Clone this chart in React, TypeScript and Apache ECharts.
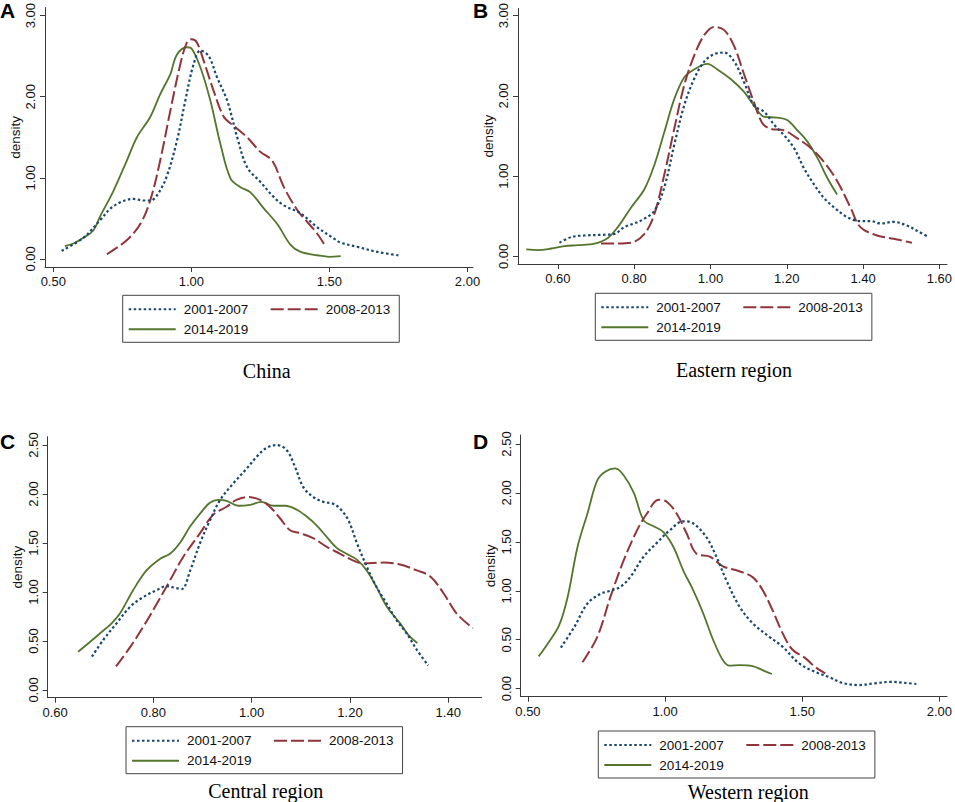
import React, { useEffect, useRef } from 'react';
import * as echarts from 'echarts';

// ---- Data ----
const SERIES_NAMES = ['2001-2007', '2008-2013', '2014-2019'];
const PANEL_TITLES = ['China', 'Eastern region', 'Central region', 'Western region'];
const PANEL_LETTERS = ['A', 'B', 'C', 'D'];

const X_TICKS_A = [0.5, 1.0, 1.5, 2.0];
const X_TICKS_B = [0.6, 0.8, 1.0, 1.2, 1.4, 1.6];
const X_TICKS_C = [0.6, 0.8, 1.0, 1.2, 1.4];
const X_TICKS_D = [0.5, 1.0, 1.5, 2.0];
const Y_TICKS_AB = [0, 1, 2, 3];
const Y_TICKS_CD = [0, 0.5, 1, 1.5, 2, 2.5];

// Panel A: China
const A1_X = [0.53, 0.609, 0.669, 0.718, 0.79, 0.827, 0.851, 0.875, 0.91, 0.948, 0.978, 1.008, 1.033, 1.063, 1.093, 1.13, 1.166, 1.202, 1.25, 1.299, 1.335, 1.396, 1.456, 1.517, 1.541, 1.6, 1.674, 1.759];
const A1_Y = [0.10, 0.26, 0.475, 0.65, 0.74, 0.72, 0.72, 0.78, 1.01, 1.46, 1.95, 2.40, 2.57, 2.50, 2.24, 1.95, 1.50, 1.13, 0.95, 0.76, 0.66, 0.56, 0.39, 0.25, 0.20, 0.15, 0.086, 0.04];
const A2_X = [0.694, 0.766, 0.815, 0.851, 0.887, 0.924, 0.96, 0.984, 1.002, 1.02, 1.045, 1.081, 1.118, 1.154, 1.202, 1.25, 1.293, 1.335, 1.384, 1.42, 1.456, 1.487];
const A2_Y = [0.057, 0.23, 0.43, 0.72, 1.21, 1.83, 2.40, 2.67, 2.71, 2.67, 2.44, 2.07, 1.75, 1.64, 1.50, 1.32, 1.21, 0.885, 0.60, 0.455, 0.31, 0.148];
const A3_X = [0.542, 0.573, 0.609, 0.645, 0.669, 0.718, 0.766, 0.803, 0.851, 0.887, 0.924, 0.948, 0.984, 1.002, 1.033, 1.069, 1.105, 1.142, 1.178, 1.214, 1.263, 1.311, 1.36, 1.396, 1.456, 1.499, 1.541];
const A3_Y = [0.156, 0.19, 0.26, 0.35, 0.52, 0.84, 1.21, 1.50, 1.75, 2.03, 2.28, 2.52, 2.61, 2.59, 2.36, 1.95, 1.42, 0.99, 0.885, 0.82, 0.62, 0.43, 0.17, 0.086, 0.045, 0.025, 0.033];

// Panel B: Eastern region
const B1_X = [0.604, 0.635, 0.67, 0.722, 0.748, 0.774, 0.8, 0.827, 0.853, 0.879, 0.905, 0.931, 0.957, 0.984, 1.01, 1.036, 1.062, 1.088, 1.114, 1.141, 1.167, 1.193, 1.219, 1.245, 1.271, 1.297, 1.324, 1.358, 1.393, 1.42, 1.446, 1.48, 1.515, 1.541, 1.572];
const B1_Y = [0.17, 0.24, 0.26, 0.27, 0.28, 0.365, 0.41, 0.47, 0.57, 0.86, 1.39, 1.88, 2.21, 2.43, 2.52, 2.54, 2.43, 2.17, 1.88, 1.80, 1.64, 1.51, 1.35, 1.10, 0.90, 0.73, 0.61, 0.49, 0.44, 0.44, 0.41, 0.43, 0.385, 0.32, 0.24];
const B2_X = [0.713, 0.757, 0.792, 0.827, 0.853, 0.879, 0.905, 0.931, 0.957, 0.984, 1.01, 1.036, 1.062, 1.088, 1.114, 1.136, 1.158, 1.193, 1.228, 1.263, 1.297, 1.332, 1.367, 1.393, 1.437, 1.48, 1.528];
const B2_Y = [0.16, 0.16, 0.17, 0.28, 0.53, 1.02, 1.59, 2.13, 2.50, 2.76, 2.86, 2.82, 2.62, 2.27, 1.92, 1.66, 1.59, 1.57, 1.47, 1.35, 1.18, 0.94, 0.61, 0.365, 0.26, 0.22, 0.17];
const B3_X = [0.517, 0.548, 0.583, 0.617, 0.652, 0.696, 0.731, 0.757, 0.792, 0.827, 0.853, 0.879, 0.905, 0.931, 0.957, 0.992, 1.018, 1.053, 1.088, 1.114, 1.141, 1.175, 1.201, 1.228, 1.254, 1.28, 1.306, 1.332];
const B3_Y = [0.086, 0.078, 0.098, 0.127, 0.14, 0.16, 0.23, 0.365, 0.61, 0.84, 1.14, 1.55, 1.96, 2.23, 2.33, 2.40, 2.33, 2.21, 2.05, 1.88, 1.74, 1.73, 1.70, 1.57, 1.43, 1.23, 0.98, 0.77];

// Panel C: Central region
const C1_X = [0.675, 0.698, 0.725, 0.753, 0.78, 0.807, 0.827, 0.847, 0.858, 0.875, 0.895, 0.915, 0.936, 0.963, 0.99, 1.01, 1.03, 1.05, 1.071, 1.088, 1.105, 1.125, 1.146, 1.166, 1.18, 1.197, 1.214, 1.234, 1.254, 1.275, 1.295, 1.315, 1.336, 1.359];
const C1_Y = [0.34, 0.51, 0.68, 0.85, 0.95, 1.02, 1.06, 1.04, 1.03, 1.22, 1.50, 1.73, 1.94, 2.11, 2.26, 2.38, 2.47, 2.50, 2.45, 2.28, 2.07, 1.97, 1.92, 1.90, 1.85, 1.73, 1.50, 1.26, 1.05, 0.88, 0.71, 0.58, 0.41, 0.25];
const C2_X = [0.724, 0.753, 0.78, 0.807, 0.834, 0.861, 0.895, 0.922, 0.949, 0.969, 0.993, 1.017, 1.037, 1.058, 1.078, 1.098, 1.125, 1.153, 1.18, 1.207, 1.227, 1.268, 1.302, 1.336, 1.363, 1.39, 1.417, 1.45];
const C2_Y = [0.24, 0.44, 0.65, 0.88, 1.12, 1.36, 1.60, 1.79, 1.87, 1.94, 1.97, 1.94, 1.87, 1.75, 1.63, 1.60, 1.55, 1.46, 1.39, 1.32, 1.29, 1.30, 1.28, 1.22, 1.16, 0.99, 0.78, 0.63];
const C3_X = [0.647, 0.671, 0.692, 0.715, 0.732, 0.759, 0.786, 0.814, 0.834, 0.854, 0.875, 0.895, 0.915, 0.932, 0.949, 0.973, 0.997, 1.02, 1.044, 1.068, 1.092, 1.112, 1.132, 1.153, 1.173, 1.193, 1.214, 1.234, 1.254, 1.275, 1.302, 1.319, 1.337];
const C3_Y = [0.39, 0.49, 0.58, 0.68, 0.78, 1.02, 1.22, 1.34, 1.39, 1.50, 1.67, 1.80, 1.91, 1.94, 1.93, 1.88, 1.89, 1.92, 1.88, 1.88, 1.84, 1.77, 1.68, 1.56, 1.45, 1.39, 1.33, 1.22, 1.05, 0.85, 0.68, 0.56, 0.48];

// Panel D: Western region
const D1_X = [0.62, 0.669, 0.717, 0.765, 0.801, 0.837, 0.873, 0.922, 0.97, 1.018, 1.066, 1.102, 1.15, 1.187, 1.223, 1.271, 1.319, 1.38, 1.428, 1.488, 1.548, 1.596, 1.645, 1.705, 1.765, 1.825, 1.873, 1.916];
const D1_Y = [0.42, 0.63, 0.87, 0.97, 1.00, 1.04, 1.14, 1.35, 1.49, 1.62, 1.71, 1.69, 1.55, 1.35, 1.11, 0.84, 0.67, 0.53, 0.43, 0.26, 0.17, 0.12, 0.06, 0.037, 0.055, 0.07, 0.06, 0.048];
const D2_X = [0.699, 0.753, 0.801, 0.849, 0.898, 0.934, 0.976, 1.006, 1.042, 1.078, 1.114, 1.163, 1.211, 1.271, 1.319, 1.355, 1.392, 1.428, 1.464, 1.512, 1.548, 1.584];
const D2_Y = [0.27, 0.53, 0.94, 1.31, 1.62, 1.79, 1.93, 1.91, 1.79, 1.59, 1.38, 1.35, 1.25, 1.20, 1.14, 1.01, 0.80, 0.57, 0.40, 0.31, 0.22, 0.157];
const D3_X = [0.539, 0.572, 0.614, 0.645, 0.681, 0.717, 0.753, 0.783, 0.819, 0.849, 0.886, 0.922, 0.958, 0.994, 1.03, 1.066, 1.102, 1.139, 1.175, 1.211, 1.235, 1.271, 1.319, 1.355, 1.389];
const D3_Y = [0.33, 0.46, 0.65, 0.94, 1.45, 1.79, 2.13, 2.22, 2.25, 2.18, 2.00, 1.72, 1.66, 1.60, 1.45, 1.21, 1.01, 0.77, 0.50, 0.29, 0.235, 0.24, 0.23, 0.19, 0.15];

// ---- Layout & style (kept separate from data) ----
const SANS = 'Liberation Sans, Arial, sans-serif';
const SERIF = 'Liberation Serif, Times New Roman, serif';
const AXIS_COLOR = '#3a3a3a';
const TEXT_COLOR = '#111';
const COLORS = ['#1a476f', '#90353b', '#55752f'];
const LINE_STYLES = [
  { width: 2.2, type: [2.5, 2.5], color: COLORS[0] },
  { width: 2, type: [13, 4], color: COLORS[1] },
  { width: 1.8, type: 'solid', color: COLORS[2] },
];

const PANELS = [
  { grid: { left: 45, top: 7, width: 428, height: 260 }, x: [0.47, 2.02], y: [-0.1, 3.1], xt: X_TICKS_A, yt: Y_TICKS_AB,
    data: [[A1_X, A1_Y], [A2_X, A2_Y], [A3_X, A3_Y]], legend: { left: 122.7, top: 295.3 }, title: [266.7, 370.7], letter: [0, 0] },
  { grid: { left: 518, top: 5, width: 430, height: 259 }, x: [0.4954, 1.62], y: [-0.095, 3.09], xt: X_TICKS_B, yt: Y_TICKS_AB,
    data: [[B1_X, B1_Y], [B2_X, B2_Y], [B3_X, B3_Y]], legend: { left: 595.3, top: 293.3 }, title: [734, 370], letter: [473, 0] },
  { grid: { left: 47.7, top: 436.7, width: 434, height: 261 }, x: [0.585, 1.468], y: [-0.079, 2.585], xt: X_TICKS_C, yt: Y_TICKS_CD,
    data: [[C1_X, C1_Y], [C2_X, C2_Y], [C3_X, C3_Y]], legend: { left: 126, top: 726.7 }, title: [265.7, 791], letter: [0, 430.5] },
  { grid: { left: 520.7, top: 435, width: 429.3, height: 261.7 }, x: [0.4736, 2.028], y: [-0.082, 2.592], xt: X_TICKS_D, yt: Y_TICKS_CD,
    data: [[D1_X, D1_Y], [D2_X, D2_Y], [D3_X, D3_Y]], legend: { left: 598.3, top: 731 }, title: [748.3, 791.7], letter: [473, 431] },
];

const fmt = (v: number) => Number(v).toFixed(2);

function buildOption() {
  const grid: any[] = [];
  const xAxis: any[] = [];
  const yAxis: any[] = [];
  const series: any[] = [];
  const legend: any[] = [];
  const graphic: any[] = [];

  PANELS.forEach((p, i) => {
    grid.push({ ...p.grid, containLabel: false });
    xAxis.push({
      type: 'value', gridIndex: i, min: p.x[0], max: p.x[1],
      axisLine: { show: true, onZero: false, lineStyle: { color: AXIS_COLOR, width: 1 } },
      axisTick: { show: true, length: 5, customValues: p.xt, lineStyle: { color: AXIS_COLOR, width: 1 } },
      axisLabel: { customValues: p.xt, formatter: fmt, margin: 8, fontSize: 13, fontFamily: SANS, color: TEXT_COLOR },
      splitLine: { show: false },
    });
    yAxis.push({
      type: 'value', gridIndex: i, min: p.y[0], max: p.y[1],
      name: 'density', nameLocation: 'middle', nameGap: 23, nameMoveOverlap: false,
      nameTextStyle: { fontSize: 13.5, fontFamily: SANS, color: TEXT_COLOR },
      axisLine: { show: true, onZero: false, lineStyle: { color: AXIS_COLOR, width: 1 } },
      axisTick: { show: true, length: 5, customValues: p.yt, lineStyle: { color: AXIS_COLOR, width: 1 } },
      axisLabel: { customValues: p.yt, formatter: fmt, rotate: 90, margin: 8, fontSize: 13, fontFamily: SANS, color: TEXT_COLOR },
      splitLine: { show: false },
    });
    p.data.forEach(([xs, ys], k) => {
      series.push({
        type: 'line', name: SERIES_NAMES[k], xAxisIndex: i, yAxisIndex: i,
        data: xs.map((x, j) => [x, ys[j]]),
        smooth: 0.35, symbol: 'none', showSymbol: false,
        color: COLORS[k], lineStyle: LINE_STYLES[k], z: 3 - k,
      });
    });
    legend.push({
      left: p.legend.left, top: p.legend.top, orient: 'horizontal', width: 270,
      itemWidth: 47, itemHeight: 12, itemGap: 6, padding: [7, 9, 6, 5],
      borderColor: '#444', borderWidth: 1, borderRadius: 0, selectedMode: false,
      itemStyle: { opacity: 0, borderWidth: 0 },
      textStyle: { fontSize: 13.5, fontFamily: SANS, color: TEXT_COLOR, lineHeight: 12, padding: [0, 0, 0, 3] },
      data: [
        { name: SERIES_NAMES[0], textStyle: { width: 80 } },
        { name: SERIES_NAMES[1] },
        { name: SERIES_NAMES[2] },
      ],
    });
    graphic.push({
      type: 'text', x: p.title[0], y: p.title[1],
      style: { text: PANEL_TITLES[i], fontSize: 20, fontFamily: SERIF, fill: '#000', align: 'center', verticalAlign: 'middle', textAlign: 'center', textVerticalAlign: 'middle' },
    });
    graphic.push({
      type: 'text', x: p.letter[0], y: p.letter[1],
      style: { text: PANEL_LETTERS[i], fontSize: 21, lineHeight: 21, fontWeight: 'bold', fontFamily: SANS, fill: '#000', align: 'left', verticalAlign: 'top', textAlign: 'left', textVerticalAlign: 'top' },
    });
  });

  return { animation: false, backgroundColor: '#fff', grid, xAxis, yAxis, series, legend, graphic };
}

export default function App() {
  const ref = useRef<HTMLDivElement>(null);
  useEffect(() => {
    if (!ref.current) return;
    const chart = echarts.init(ref.current, undefined, { renderer: 'svg' });
    chart.setOption(buildOption());
    return () => chart.dispose();
  }, []);
  return <div ref={ref} style={{ position: 'absolute', left: 0, top: 0, width: 955, height: 802 }} />;
}
